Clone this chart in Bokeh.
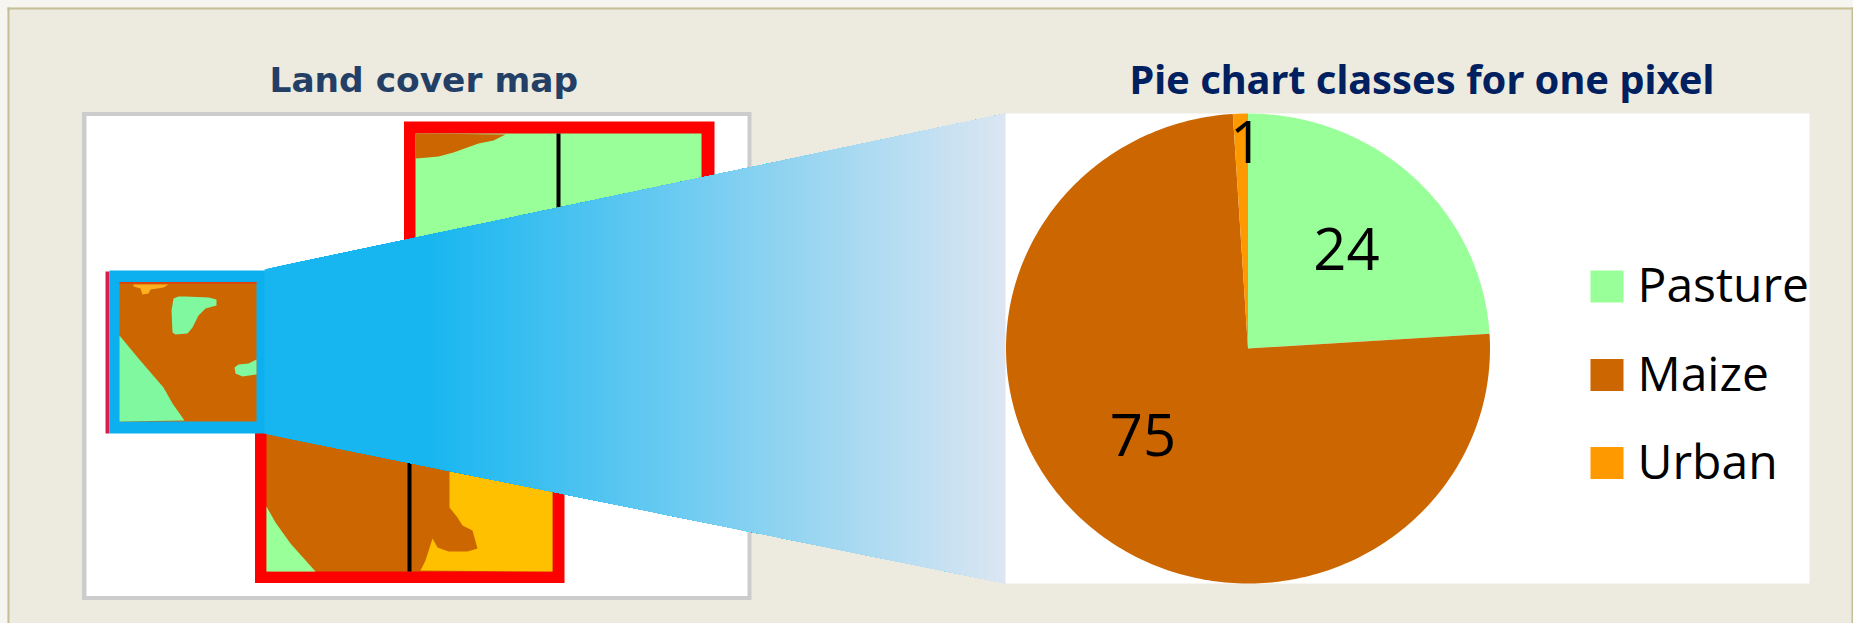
import numpy as np
from bokeh.plotting import figure
from bokeh.embed import file_html
from bokeh.resources import INLINE
from bokeh.core.properties import value

# ---- data ----
classes = ["Pasture", "Maize", "Urban"]
shares = [24, 75, 1]
pie_colors = ["#99FF99", "#CC6600", "#FF9900"]
left_title = "Land cover map"
right_title = "Pie chart classes for one pixel"

# map outlines (page pixels)
top_maize_x = [415, 505, 493, 478, 453, 438, 427, 415]
top_maize_y = [133, 134, 140, 143, 152, 156, 157, 158]
bottom_green_x = [266, 275, 290, 315, 266]
bottom_green_y = [506, 522, 543, 571, 571]
bottom_yellow_x = [449, 449, 457, 462, 472, 477, 467, 448, 437, 432, 425, 420, 552, 552]
bottom_yellow_y = [470, 507, 517, 525, 530, 548, 551, 551, 547, 538, 560, 570, 571, 470]
tile_urban_x = [133, 168, 163, 150, 148, 142, 140, 133]
tile_urban_y = [284, 284, 287, 289, 293, 294, 288, 286]
tile_blob_x = [173, 178, 185, 208, 216, 216, 205, 198, 192, 187, 175, 172, 171]
tile_blob_y = [298, 296, 296, 297, 299, 305, 308, 315, 327, 333, 334, 332, 310]
tile_corner_x = [119, 138, 163, 172, 184, 119]
tile_corner_y = [335, 358, 387, 403, 420, 421]
tile_side_x = [256, 256, 242, 235, 234, 238, 248]
tile_side_y = [359, 374, 376, 373, 367, 364, 363]

# ---- page geometry ----
W, H = 1853, 623
BG = "#EDEADF"
EDGE = "#C6BE96"
p = figure(width=W, height=H, x_range=(0, W), y_range=(H, 0),
           toolbar_location=None, output_backend="svg", min_border=0,
           background_fill_color=BG, border_fill_color=BG, outline_line_color=None)
p.xaxis.visible = False
p.yaxis.visible = False
p.grid.visible = False

def box(x0, x1, y0, y1, color):
    p.quad(left=x0, right=x1, top=y0, bottom=y1, fill_color=color, line_color=None)

def poly(xs, ys, color):
    p.patch(xs, ys, fill_color=color, line_color=None)

# outside of the panel, and the panel edge
box(0, W, 0, 7, "#F6F5F0")
box(0, 7, 0, H, "#F6F5F0")
box(7, W, 7, 9, EDGE)
box(7, 9, 7, H, EDGE)
box(W - 2, W, 7, H, EDGE)

# map frame
box(81.5, 751, 111.5, 599.5, "#CCCCCC")
box(86, 747, 115.5, 595.5, "#FFFFFF")

# top block
box(403.5, 714, 121, 300, "#FF0000")
box(415, 701, 133, 300, "#99FF99")
poly(top_maize_x, top_maize_y, "#CC6600")
box(556, 560, 133, 230, "#000000")

# bottom block
box(254.5, 564, 420, 582.5, "#FF0000")
box(266, 552, 420, 571, "#CC6600")
poly(bottom_green_x, bottom_green_y, "#99FF99")
poly(bottom_yellow_x, bottom_yellow_y, "#FFC000")
box(407, 411, 430, 571, "#000000")

# selected tile
box(105, 109, 271, 433, "#D61F4F")
box(109, 265, 270, 433, "#0DB0EE")
box(119, 256, 281.5, 421, "#CC6600")
box(119, 256, 281.5, 283, "#E03A10")
poly(tile_urban_x, tile_urban_y, "#FFB020")
poly(tile_blob_x, tile_blob_y, "#80F8A0")
poly(tile_corner_x, tile_corner_y, "#80F8A0")
poly(tile_side_x, tile_side_y, "#80F8A0")

# zoom wedge with a horizontal gradient, painted left to right
X0, X1 = 264.0, 1006.0
T0, T1 = 269.0, 113.0
B0, B1 = 433.0, 583.0
stops_t = [0.0, 0.22, 1.0]
stops_c = np.array([[0x18, 0xB6, 0xF0], [0x18, 0xB6, 0xF0], [0xDC, 0xE6, 0xF2]], float)
xs = np.arange(X0, X1, 2.0)
px, py, pc = [], [], []
for x in xs:
    f = (x - X0) / (X1 - X0)
    c = [np.interp(f, stops_t, stops_c[:, i]) for i in range(3)]
    px.append([x, X1, X1, x])
    py.append([T0 + (T1 - T0) * f, T1, B1, B0 + (B1 - B0) * f])
    pc.append("#%02X%02X%02X" % tuple(int(round(v)) for v in c))
p.patches(px, py, fill_color=pc, line_color=None)

# pie panel
box(1005, 1809, 113, 583, "#FFFFFF")
CX, CY, RX, RY = 1247.5, 348.0, 242.0, 235.0
frac = np.cumsum([0] + shares) / sum(shares)
for a, b, col in zip(frac[:-1], frac[1:], pie_colors):
    th = np.linspace(a, b, max(int((b - a) * 360), 2) + 1) * 2 * np.pi
    poly(np.r_[CX, CX + RX * np.sin(th)], np.r_[CY, CY - RY * np.cos(th)], col)

# value labels
lab_x = [1346, 1142.5, 1246]
lab_y = [248.5, 434, 141]
p.text(lab_x, lab_y, text=[str(s) for s in shares], text_align="center", text_baseline="middle",
       text_font=value("Open Sans"), text_font_size="58px", text_color="#000000")

# legend
leg_y = [286, 374.5, 462.5]
for y, name, col in zip(leg_y, classes, pie_colors):
    box(1590, 1623, y - 16, y + 16, col)
p.text([1637] * 3, [y - 3 for y in leg_y], text=classes, text_align="left", text_baseline="middle",
       text_font=value("Open Sans"), text_font_size="48px", text_color="#000000")

# titles
p.text([269], [79], text=[left_title], text_align="left", text_baseline="alphabetic",
       text_font=value("DejaVu Sans"), text_font_style="bold", text_font_size="34.4px", text_color="#243F66")
p.text([1129], [78], text=[right_title], text_align="left", text_baseline="alphabetic",
       text_font=value("Noto Sans"), text_font_style="bold", text_font_size="39.8px", text_color="#002060")

open("out.html", "w").write(file_html(p, INLINE))
